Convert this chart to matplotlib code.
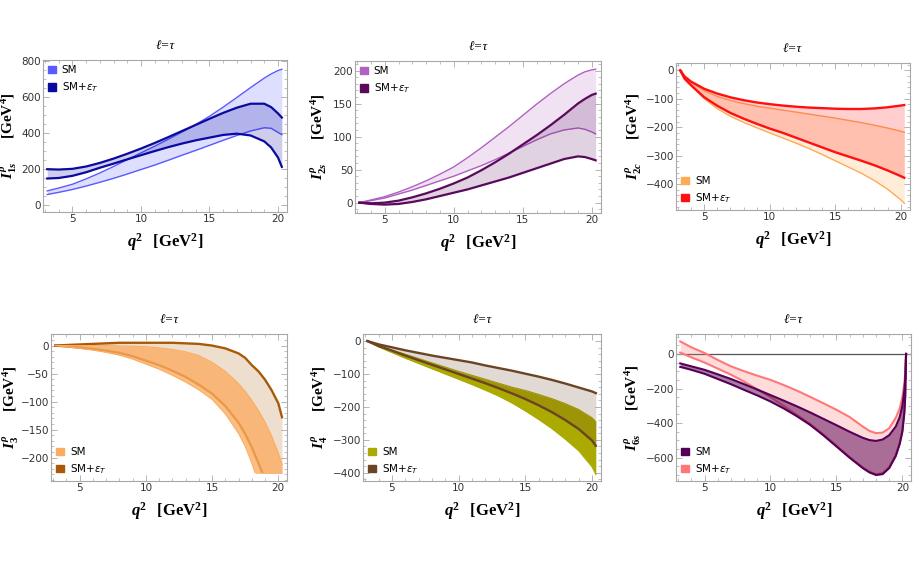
import numpy as np
import matplotlib
matplotlib.use("Agg")
import matplotlib.pyplot as plt
from matplotlib.patches import Patch, Rectangle
from matplotlib.ticker import MultipleLocator
from matplotlib.font_manager import FontProperties

plt.rcParams["mathtext.rm"] = "Liberation Serif:bold"
plt.rcParams["mathtext.it"] = "Liberation Serif:italic:bold"
plt.rcParams["mathtext.bf"] = "Liberation Serif:bold"

# ---- data (q^2 in GeV^2, observables in GeV^4) ----
q2_a = [3.16, 4, 5, 6, 7, 8, 9, 10, 11, 12, 13, 14, 15, 16, 17, 18, 19, 19.5, 20, 20.28]

i1s_sm_hi = [76, 92, 113, 143, 176, 212, 250, 288, 325, 364, 404, 446, 492, 543, 597, 652, 705, 728, 747, 754]
i1s_sm_lo = [56, 68, 84, 103, 124, 146, 170, 195, 220, 247, 275, 302, 330, 358, 385, 410, 428, 425, 402, 390]
i1s_np_hi = [197, 195, 199, 212, 232, 256, 283, 312, 343, 376, 410, 444, 478, 511, 540, 562, 562, 543, 508, 485]
i1s_np_lo = [145, 148, 160, 180, 205, 228, 252, 275, 298, 320, 340, 358, 373, 388, 395, 385, 352, 318, 262, 210]

i2s_sm_hi = [0, 4, 9, 16, 24, 33, 43, 54, 68, 83, 99, 115, 132, 149, 165, 180, 193, 198, 201, 202]
i2s_sm_lo = [0, 3, 7, 13, 19, 26, 33, 40, 48, 56, 65, 75, 85, 95, 104, 110, 113, 111, 107, 104]
i2s_np_hi = [0, -1, 0, 3, 8, 14, 21, 29, 38, 49, 61, 74, 88, 102, 117, 133, 150, 157, 163, 165]
i2s_np_lo = [0, -2, -3, -2, 1, 5, 10, 15, 20, 26, 32, 38, 45, 52, 59, 66, 70, 69, 66, 64]

q2_c = [3.16, 3.5, 4, 5, 6, 7, 8, 9, 10, 11, 12, 13, 14, 15, 16, 17, 18, 19, 20, 20.28]
i2c_sm_hi = [0, -22, -42, -72, -92, -106, -117, -126, -133, -140, -147, -154, -161, -168, -176, -184, -193, -203, -214, -218]
i2c_sm_lo = [0, -30, -55, -100, -135, -162, -183, -202, -220, -238, -256, -275, -296, -318, -340, -362, -388, -418, -455, -468]
i2c_np_hi = [0, -22, -40, -65, -82, -95, -105, -113, -119, -124, -128, -131, -133, -135, -136, -136, -134, -130, -124, -122]
i2c_np_lo = [0, -30, -53, -95, -125, -150, -170, -188, -205, -220, -237, -254, -271, -288, -303, -318, -334, -352, -372, -378]

q2_d = [3.16, 4, 5, 6, 7, 8, 9, 10, 11, 12, 13, 14, 15, 16, 17, 17.5, 18, 18.5, 19, 19.5, 20, 20.28]
i3_sm_hi = [0, 0, 0, 0, 0, -0.5, -1, -2, -4, -7, -11, -18, -30, -46, -68, -82, -98, -116, -137, -162, -192, -212]
i3_sm_lo = [0, -2, -5, -8, -12, -17, -24, -33, -42, -53, -65, -79, -96, -122, -157, -180, -210, -245, -285, -325, -370, -395]
i3_np_hi = [0, 1, 2, 3, 4, 5, 5, 5, 5, 5, 4, 3, 0, -5, -14, -22, -35, -46, -61, -80, -103, -128]
i3_np_lo = [0, -1.5, -3.5, -6, -9, -13, -19, -27, -35, -45, -56, -70, -86, -108, -138, -158, -182, -210, -240, -270, -300, -320]

q2_e = [3.16, 4, 5, 6, 7, 8, 9, 10, 11, 12, 13, 14, 15, 16, 17, 18, 19, 20, 20.28]
i4_sm_hi = [0, -14, -27, -40, -53, -66, -79, -92, -104, -116, -128, -140, -150, -162, -175, -190, -208, -233, -245]
i4_sm_lo = [0, -18, -35, -52, -68, -84, -100, -116, -132, -149, -167, -188, -212, -238, -266, -298, -333, -382, -405]
i4_np_hi = [0, -10, -19, -28, -36, -44, -51, -58, -65, -74, -82, -90, -99, -108, -118, -129, -141, -153, -158]
i4_np_lo = [0, -15, -29, -44, -58, -72, -86, -100, -114, -128, -143, -159, -176, -195, -216, -240, -267, -302, -318]

q2_f = [3.16, 4, 5, 6, 7, 8, 9, 10, 11, 12, 13, 14, 15, 16, 17, 17.5, 18, 18.5, 19, 19.5, 19.8, 20, 20.15, 20.22, 20.28]
i6s_sm_hi = [-55, -72, -92, -118, -145, -175, -206, -238, -270, -303, -338, -375, -412, -450, -485, -498, -503, -495, -470, -420, -365, -300, -210, -140, 0]
i6s_sm_lo = [-75, -92, -115, -145, -175, -208, -240, -275, -315, -360, -410, -470, -535, -600, -660, -685, -700, -695, -660, -590, -520, -450, -340, -240, 0]
i6s_np_hi = [72, 38, 5, -35, -72, -100, -126, -150, -180, -212, -248, -285, -323, -365, -420, -445, -458, -455, -430, -370, -315, -250, -170, -110, 0]
i6s_np_lo = [8, -20, -50, -85, -120, -160, -205, -250, -300, -352, -405, -465, -530, -597, -657, -680, -695, -690, -655, -585, -515, -445, -335, -235, 0]

ylabels = [r"$I^{\rho}_{1s}$     $[\mathrm{GeV}^{4}]$", r"$I^{\rho}_{2s}$     $[\mathrm{GeV}^{4}]$",
           r"$I^{\rho}_{2c}$     $[\mathrm{GeV}^{4}]$", r"$I^{\rho}_{3}$     $[\mathrm{GeV}^{4}]$",
           r"$I^{\rho}_{4}$     $[\mathrm{GeV}^{4}]$", r"$I^{\rho}_{6s}$     $[\mathrm{GeV}^{4}]$"]
xlabel = r"$q^{2}\;\;\;[\mathrm{GeV}^{2}]$"
legend_labels = ["SM", r"SM+$\epsilon_T$"]

fig = plt.figure(figsize=(9.15, 5.62), dpi=100)

boxes = [[0.047, 0.623, 0.267, 0.270], [0.388, 0.621, 0.269, 0.270], [0.739, 0.626, 0.255, 0.262],
         [0.056, 0.144, 0.258, 0.262], [0.397, 0.144, 0.260, 0.262], [0.739, 0.144, 0.257, 0.262]]
ylabel_x = [-0.097, -0.105, -0.14, -0.128, -0.138, -0.14]

panels = [
    dict(q=q2_a, s=(i1s_sm_lo, i1s_sm_hi), n=(i1s_np_lo, i1s_np_hi), sc="#5a5aff", sa=0.2, slw=1.0,
         nc="#0a0aa0", na=0.2, nlw=1.6, sm_top=False, ylim=(-41, 805), maj=200, mnr=50, loc="upper left"),
    dict(q=q2_a, s=(i2s_sm_lo, i2s_sm_hi), n=(i2s_np_lo, i2s_np_hi), sc="#b060c0", sa=0.18, slw=1.0,
         nc="#5a0a5a", na=0.18, nlw=1.6, sm_top=False, ylim=(-15.7, 214), maj=50, mnr=10, loc="upper left"),
    dict(q=q2_c, s=(i2c_sm_lo, i2c_sm_hi), n=(i2c_np_lo, i2c_np_hi), sc="#ffaa55", sa=0.22, slw=1.0,
         nc="#ff1010", na=0.2, nlw=1.7, sm_top=False, ylim=(-492, 26), maj=100, mnr=20, loc="lower left"),
    dict(q=q2_d, s=(i3_sm_lo, i3_sm_hi), n=(i3_np_lo, i3_np_hi), sc="#fcac60", sa=0.78, slw=0.8,
         nc="#a85a08", na=0.2, nlw=1.7, sm_top=True, ylim=(-242, 21), maj=50, mnr=10, loc="lower left",
         clip=-228),
    dict(q=q2_e, s=(i4_sm_lo, i4_sm_hi), n=(i4_np_lo, i4_np_hi), sc="#aaaa00", sa=1.0, slw=0.8,
         nc="#6b4424", na=0.2, nlw=1.7, sm_top=False, ylim=(-425, 22), maj=100, mnr=20, loc="lower left"),
    dict(q=q2_f, s=(i6s_sm_lo, i6s_sm_hi), n=(i6s_np_lo, i6s_np_hi), sc="#550055", sa=0.5, slw=1.5,
         nc="#ff7777", na=0.25, nlw=1.5, sm_top=True, ylim=(-735, 116), maj=200, mnr=50, loc="lower left",
         zero=True),
]

frame_col = "#a8a8a8"
leg_font = FontProperties(family="DejaVu Sans", size=7.5, math_fontfamily="dejavusans")

for box, p, ylab, lx in zip(boxes, panels, ylabels, ylabel_x):
    ax = fig.add_axes(box)
    q = np.array(p["q"])
    z_sm, z_np = (3, 2) if p["sm_top"] else (2, 3)
    arts = []
    # SM + tensor coupling band
    arts.append(ax.fill_between(q, p["n"][0], p["n"][1], color=p["nc"], alpha=p["na"], lw=0, zorder=z_np))
    for y in p["n"]:
        arts += ax.plot(q, y, color=p["nc"], lw=p["nlw"], zorder=z_np + 0.1)
    # SM band
    arts.append(ax.fill_between(q, p["s"][0], p["s"][1], color=p["sc"], alpha=p["sa"], lw=0, zorder=z_sm))
    for y in p["s"]:
        arts += ax.plot(q, y, color=p["sc"], lw=p["slw"], zorder=z_sm + 0.1)
    if "clip" in p:
        rect = Rectangle((0, p["clip"]), 30, 1000, transform=ax.transData)
        for a in arts:
            a.set_clip_path(rect)
    if p.get("zero"):
        ax.axhline(0, color="#555555", lw=0.9, zorder=1)

    ax.set_xlim(2.85, 20.68)
    ax.set_ylim(*p["ylim"])
    ax.xaxis.set_major_locator(MultipleLocator(5))
    ax.xaxis.set_minor_locator(MultipleLocator(1))
    ax.yaxis.set_major_locator(MultipleLocator(p["maj"]))
    ax.yaxis.set_minor_locator(MultipleLocator(p["mnr"]))
    ax.tick_params(which="both", direction="in", top=True, right=True, color=frame_col,
                   labelcolor="#333333", labelsize=7.5, pad=1.5)
    ax.tick_params(which="major", length=4, width=0.6)
    ax.tick_params(which="minor", length=2, width=0.5)
    for sp in ax.spines.values():
        sp.set_color(frame_col)
        sp.set_linewidth(0.8)

    ax.set_title("ℓ=τ", fontsize=9.5, family=["Liberation Serif", "DejaVu Sans"], style="italic", pad=8)
    ax.set_xlabel(xlabel, fontsize=12, math_fontfamily="custom", labelpad=5)
    ax.set_ylabel(ylab, fontsize=11, math_fontfamily="custom")
    ax.yaxis.set_label_coords(lx, 0.5)

    handles = [Patch(facecolor=p["sc"], edgecolor=p["sc"]), Patch(facecolor=p["nc"], edgecolor=p["nc"])]
    ax.legend(handles, legend_labels, loc=p["loc"], prop=leg_font, frameon=False,
              handlelength=0.7, handleheight=0.7, handletextpad=0.6, labelspacing=0.5,
              borderaxespad=0.3, borderpad=0.2)

fig.savefig("out.png", dpi=100)
